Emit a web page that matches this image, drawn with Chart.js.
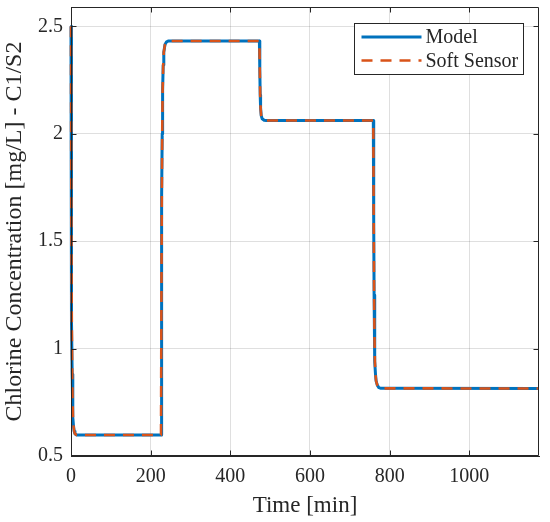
<!DOCTYPE html>
<html><head><meta charset="utf-8">
<script src="https://cdn.jsdelivr.net/npm/chart.js@4.4.0/dist/chart.umd.min.js"></script>
<style>html,body{margin:0;padding:0;background:#fff;} #wrap{width:550px;height:522px;position:relative;}</style>
</head><body><div id="wrap"><canvas id="c"></canvas></div>
<script>
const timeMin = [0, 0.5, 1, 1.5, 2, 3, 4, 5, 6, 8, 10, 14,
  226, 227, 228, 229, 230, 231.5, 233, 236, 240, 245,
  473, 474, 475, 476, 477.5, 480, 485, 490,
  759, 760, 761, 762, 763, 764.5, 766, 769, 773, 778,
  1175];
const modelConc = [2.5, 2.0, 1.6, 1.35, 1.12, 0.88, 0.75, 0.68, 0.645, 0.615, 0.603, 0.598,
  0.598, 1.2, 1.7, 2.0, 2.2, 2.32, 2.38, 2.415, 2.428, 2.432,
  2.432, 2.30, 2.18, 2.12, 2.085, 2.07, 2.063, 2.062,
  2.062, 1.6, 1.25, 1.05, 0.94, 0.88, 0.85, 0.83, 0.818, 0.815,
  0.814];
const softSensorConc = [2.5, 2.0, 1.6, 1.35, 1.12, 0.88, 0.75, 0.68, 0.645, 0.615, 0.603, 0.598,
  0.598, 1.2, 1.7, 2.0, 2.2, 2.32, 2.38, 2.415, 2.428, 2.432,
  2.432, 2.30, 2.18, 2.12, 2.085, 2.07, 2.063, 2.062,
  2.062, 1.6, 1.25, 1.05, 0.94, 0.88, 0.85, 0.83, 0.818, 0.815,
  0.814];
const xTicks = [0, 200, 400, 600, 800, 1000];
const yTicks = [0.5, 1, 1.5, 2, 2.5];
const seriesLabels = ['Model', 'Soft Sensor'];
const xTitle = 'Time [min]';
const yTitle = 'Chlorine Concentration [mg/L] - C1/S2';
const xMin = 0, xMax = 1175, yMin = 0.5, yMax = 2.59;

const FONT = 'Liberation Serif';
const INK = '#262626';

const framePlugin = {
  id: 'frame',
  afterDraw(chart) {
    const {ctx, chartArea: {left, right, top, bottom}, scales: {x, y}} = chart;
    ctx.save();
    ctx.strokeStyle = INK; ctx.lineWidth = 1;
    const L = Math.round(left) + 0.5, R = Math.round(right) - 0.5, T = Math.round(top) + 0.5, B = Math.round(bottom) - 0.5;
    ctx.beginPath();
    ctx.rect(L, T, R - L, B - T);
    xTicks.forEach(v => {
      const p = Math.round(x.getPixelForValue(v)) + 0.5;
      ctx.moveTo(p, B); ctx.lineTo(p, B - 5);
      ctx.moveTo(p, T); ctx.lineTo(p, T + 5);
    });
    yTicks.forEach(v => {
      const p = Math.round(y.getPixelForValue(v)) + 0.5;
      ctx.moveTo(L, p); ctx.lineTo(L + 5, p);
      ctx.moveTo(R, p); ctx.lineTo(R - 5, p);
    });
    ctx.stroke();

    // legend
    const bw = 169, bh = 51;
    const bx = Math.round(right - 16 - bw) + 0.5, by = Math.round(top + 16) + 0.5;
    ctx.fillStyle = '#fff';
    ctx.fillRect(bx, by, bw, bh);
    ctx.strokeStyle = INK; ctx.lineWidth = 1;
    ctx.strokeRect(bx, by, bw, bh);
    const rows = [13.5, 37];
    chart.data.datasets.forEach((ds, i) => {
      const ly = by + rows[i];
      ctx.save();
      ctx.strokeStyle = ds.borderColor;
      ctx.lineWidth = ds.borderWidth;
      ctx.setLineDash(ds.borderDash || []);
      ctx.beginPath();
      ctx.moveTo(bx + 7, ly); ctx.lineTo(bx + 67, ly);
      ctx.stroke();
      ctx.restore();
      ctx.fillStyle = INK;
      ctx.font = '20px "' + FONT + '"';
      ctx.textBaseline = 'middle';
      ctx.textAlign = 'left';
      ctx.fillText(ds.label, bx + 71, ly + 1);
    });
    ctx.restore();
  }
};

new Chart(document.getElementById('c'), {
  type: 'line',
  data: {
    datasets: [
      {
        label: seriesLabels[0],
        data: timeMin.map((t, i) => ({x: t, y: modelConc[i]})),
        borderColor: '#0072BD', borderWidth: 3, pointRadius: 0, tension: 0, order: 1, fill: false, clip: 4,
        borderJoinStyle: 'round'
      },
      {
        label: seriesLabels[1],
        data: timeMin.map((t, i) => ({x: t, y: softSensorConc[i]})),
        borderColor: '#D95319', borderWidth: 2.6, borderDash: [11, 8], pointRadius: 0, tension: 0, order: 0, fill: false, clip: 4,
        borderJoinStyle: 'round'
      }
    ]
  },
  options: {
    responsive: true, maintainAspectRatio: false, animation: false,
    layout: {padding: {top: 7, right: 11, bottom: 0, left: 0}},
    plugins: {legend: {display: false}, tooltip: {enabled: false}},
    scales: {
      x: {
        type: 'linear', min: xMin, max: xMax,
        afterBuildTicks: s => { s.ticks = xTicks.map(v => ({value: v})); },
        afterFit: s => { s.height = 66; s.paddingLeft = 0; s.paddingRight = 0; },
        ticks: {font: {family: FONT, size: 20}, color: INK, padding: 9, maxRotation: 0, autoSkip: false, callback: v => String(v)},
        grid: {color: 'rgba(38,38,38,0.15)', drawTicks: false, lineWidth: 1},
        border: {display: true, color: INK, width: 1},
        title: {display: true, text: xTitle, color: INK, font: {family: FONT, size: 23, lineHeight: 1}, padding: {top: 0, bottom: 5}}
      },
      y: {
        type: 'linear', min: yMin, max: yMax,
        afterBuildTicks: s => { s.ticks = yTicks.map(v => ({value: v})); },
        afterFit: s => { s.width = 71; s.paddingTop = 0; s.paddingBottom = 0; },
        ticks: {font: {family: FONT, size: 20}, color: INK, padding: 8, autoSkip: false, callback: v => String(v)},
        grid: {color: 'rgba(38,38,38,0.15)', drawTicks: false, lineWidth: 1},
        border: {display: true, color: INK, width: 1},
        title: {display: true, text: yTitle, color: INK, font: {family: FONT, size: 24, lineHeight: 1}, padding: {top: 3, bottom: 0}}
      }
    }
  },
  plugins: [framePlugin]
});
</script>
</body></html>
